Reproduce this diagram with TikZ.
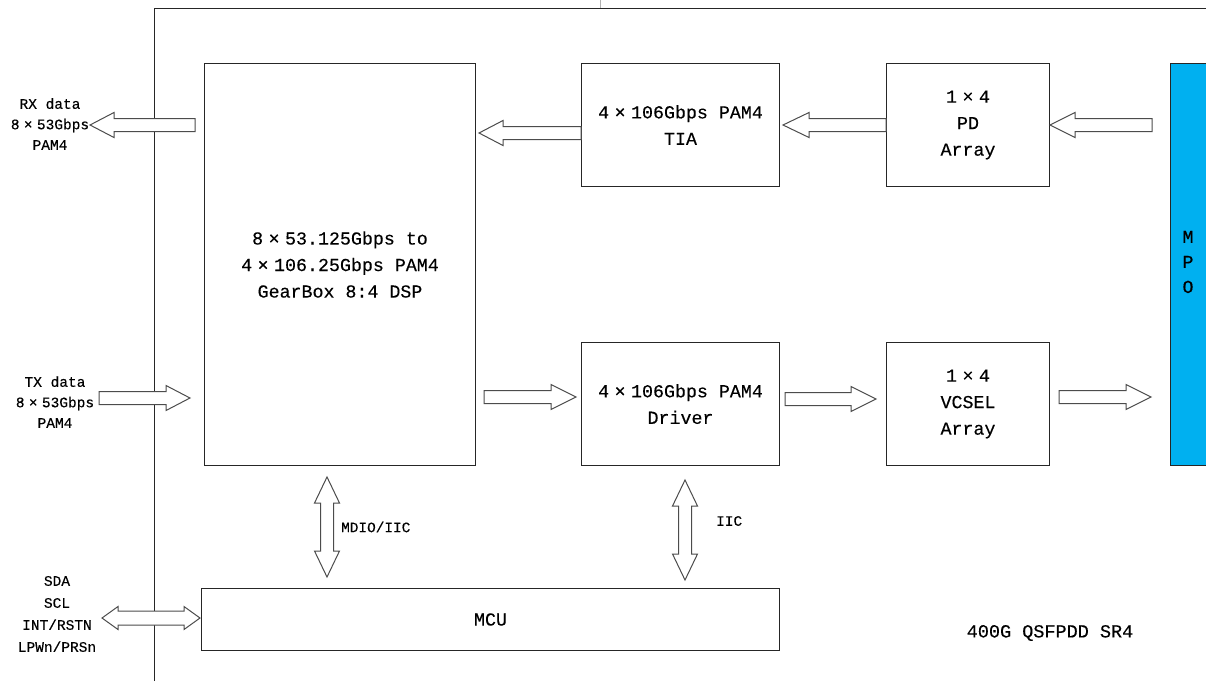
\documentclass[tikz,border=0pt]{standalone}
\usepackage{fontspec}
\setmainfont[FakeBold=0.3]{Liberation Mono}
\newcommand{\X}{\makebox[1.2em]{×}}
\newcommand{\harr}[4]{% tail, head base, tip, y
  \draw[arr] (#1,{#4-6.5}) -- (#2,{#4-6.5}) -- (#2,{#4-12.5}) -- (#3,#4) -- (#2,{#4+12.5}) -- (#2,{#4+6.5}) -- (#1,{#4+6.5}) -- cycle;}
\newcommand{\vdarr}[3]{% x, top tip, bottom tip
  \draw[arr] (#1,#2) -- ({#1+12.5},{#2+26}) -- ({#1+6.5},{#2+26}) -- ({#1+6.5},{#3-26}) -- ({#1+12.5},{#3-26}) -- (#1,#3)
    -- ({#1-12.5},{#3-26}) -- ({#1-6.5},{#3-26}) -- ({#1-6.5},{#2+26}) -- ({#1-12.5},{#2+26}) -- cycle;}
\begin{document}
\begin{tikzpicture}[x=1pt,y=-1pt,
  box/.style={draw=black!85, line width=1pt, anchor=north west, inner sep=0pt, align=center,
              font=\fontsize{18.3}{26.5}\selectfont},
  arr/.style={draw=black!70, line width=1pt, fill=white, line join=miter},
  side/.style={font=\fontsize{14.5}{20.5}\selectfont, align=center, inner sep=0pt},
  small/.style={font=\fontsize{14.4}{16}\selectfont, inner sep=0pt},
]
\useasboundingbox (0,0) rectangle (1206,681);
% frame
\draw[line width=1pt, black!85] (154,681) -- (154,8) -- (1206,8);
\draw[black!30, line width=0.5pt] (600,0) -- (600,8);
% boxes
\node[box, minimum width=271, minimum height=402] (dsp) at (204,63)
  {8\X53.125Gbps to\\4\X106.25Gbps PAM4\\GearBox 8:4 DSP};
\node[box, minimum width=198, minimum height=123] (tia) at (581,63) {4\X106Gbps PAM4\\TIA};
\node[box, minimum width=163, minimum height=123] (pd) at (886,63) {1\X4\\PD\\Array};
\node[box, minimum width=198, minimum height=123] (drv) at (581,342) {4\X106Gbps PAM4\\Driver};
\node[box, minimum width=163, minimum height=123] (vcsel) at (886,342) {1\X4\\VCSEL\\Array};
\node[box, minimum width=40, minimum height=402, fill={rgb,255:red,0;green,176;blue,240}] (mpo) at (1170,63) {};
\node[font=\fontsize{18.3}{25}\selectfont, align=center, inner sep=0pt] (mpot) at (1188,262) {M\\P\\O};
\node[box, minimum width=578, minimum height=62] (mcu) at (201,588) {MCU};
% block arrows
\harr{195}{114}{90}{125}
\harr{581}{503}{479}{133}
\harr{886}{809}{783}{125}
\harr{1152}{1075}{1050}{125}
\harr{99}{166}{190}{398}
\harr{484}{551}{576}{397}
\harr{785}{851}{876}{399}
\harr{1059}{1126}{1151}{397}
\vdarr{327}{477}{577}
\vdarr{685}{480}{580}
\draw[arr] (102,618) -- (118,606.5) -- (118,611) -- (184,611) -- (184,606.5) -- (200,618)
  -- (184,629.5) -- (184,625) -- (118,625) -- (118,629.5) -- cycle;
% labels
\node[side] (rx) at (50,124) {RX data\\8\X53Gbps\\PAM4};
\node[side] (tx) at (55,402) {TX data\\8\X53Gbps\\PAM4};
\node[side, font=\fontsize{14.5}{22}\selectfont] (ctl) at (57,614) {SDA\\SCL\\INT/RSTN\\LPWn/PRSn};
\node[small, anchor=west] (mdio) at (341,527) {MDIO/IIC};
\node[small, anchor=west] (iic) at (716,521) {IIC};
\node[font=\fontsize{18.5}{20}\selectfont, inner sep=0pt] (title) at (1050,633) {400G QSFPDD SR4};
\end{tikzpicture}
\end{document}
